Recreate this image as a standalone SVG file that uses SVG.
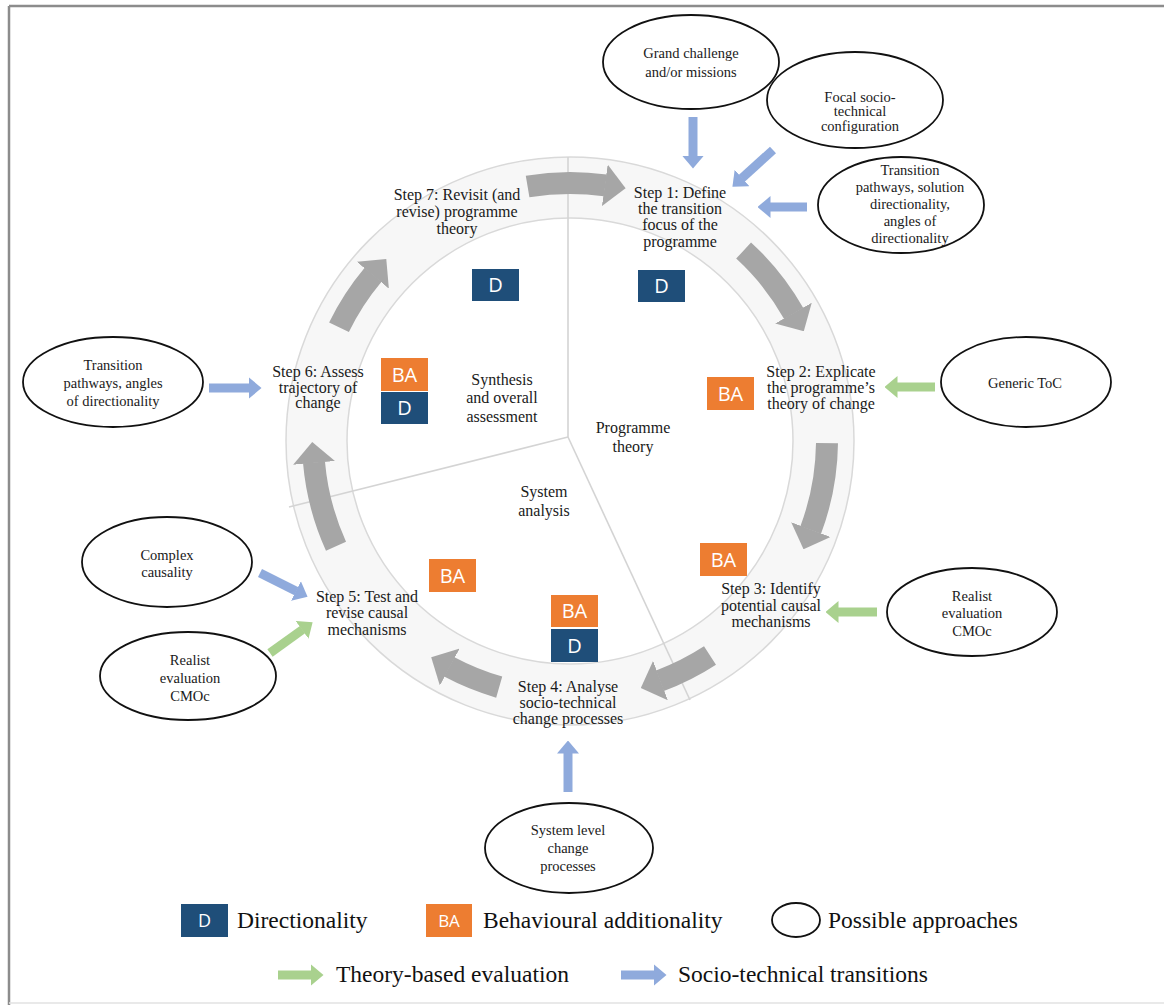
<svg xmlns="http://www.w3.org/2000/svg" width="1164" height="1005" viewBox="0 0 1164 1005">
<style>
.t{fill:#1a1a1a;text-anchor:middle}
.s{font-size:16px}
.e{font-size:14.5px}
.lg{fill:#111;font-size:23.5px}
.ell{fill:#fff;stroke:#111;stroke-width:1.8}
.bx{fill:#fff;text-anchor:middle;font-size:20px}
.ba{fill:#ed7d31}
.d{fill:#1f4e79}
.cyc{fill:none;stroke:#a6a6a6;stroke-width:22;marker-end:url(#gh)}
.blue{stroke:#8faadc;stroke-width:9;marker-end:url(#bh)}
.green{stroke:#a9d18e;stroke-width:9;marker-end:url(#grh)}
.sp{stroke:#d4d4d4;stroke-width:1.6;fill:none}
</style>
<defs>
<marker id="gh" markerUnits="userSpaceOnUse" markerWidth="21" markerHeight="42" viewBox="0 0 21 42" refX="0.5" refY="21" orient="auto"><path d="M0,0 L21,21 L0,42 z" fill="#a6a6a6"/></marker>
<marker id="bh" markerUnits="userSpaceOnUse" markerWidth="13" markerHeight="22" viewBox="0 0 13 22" refX="0.5" refY="11" orient="auto"><path d="M0,0 L13,11 L0,22 z" fill="#8faadc"/></marker>
<marker id="grh" markerUnits="userSpaceOnUse" markerWidth="13" markerHeight="22" viewBox="0 0 13 22" refX="0.5" refY="11" orient="auto"><path d="M0,0 L13,11 L0,22 z" fill="#a9d18e"/></marker>
</defs>
<rect width="1164" height="1005" fill="#fff"/>
<g id="frame">
<line x1="9" y1="6" x2="1164" y2="6" stroke="#8c8c8c" stroke-width="2.5"/>
<line x1="9" y1="6" x2="9" y2="1005" stroke="#8c8c8c" stroke-width="2.5"/>
<line x1="9" y1="1003" x2="1164" y2="1003" stroke="#e2e2e2" stroke-width="1.5"/>
</g>
<g id="ring">
<path d="M286,441 A284,284 0 1 0 854,441 A284,284 0 1 0 286,441 Z M347,441 A223,223 0 1 1 793,441 A223,223 0 1 1 347,441 Z" fill="#f7f7f7" fill-rule="evenodd" stroke="#d9d9d9" stroke-width="1.5"/>
<line class="sp" x1="568" y1="437" x2="568" y2="157"/>
<line class="sp" x1="568" y1="437" x2="289" y2="507"/>
<line class="sp" x1="568" y1="437" x2="690" y2="700"/>
</g>
<g id="connectors">
<path class="cyc" d="M527.6,186.5 A257,257 0 0 1 605.3,185.4"/>
<path class="cyc" d="M743.6,250.5 A257,257 0 0 1 793.7,313.5"/>
<path class="cyc" d="M827,443.1 A257,257 0 0 1 810.7,530"/>
<path class="cyc" d="M710,655.5 A257,257 0 0 1 660,680.7"/>
<path class="cyc" d="M499.2,687.1 A257,257 0 0 1 449.3,666.9"/>
<path class="cyc" d="M336,546.2 A257,257 0 0 1 314,462.4"/>
<path class="cyc" d="M339,327.3 A257,257 0 0 1 373.1,274.8"/>
<line class="blue" x1="693" y1="117" x2="693" y2="156"/>
<line class="blue" x1="773" y1="150" x2="741.7" y2="178.3"/>
<line class="blue" x1="807" y1="207" x2="770" y2="207"/>
<line class="blue" x1="209" y1="388" x2="249" y2="388"/>
<line class="blue" x1="260" y1="573" x2="296.4" y2="591.2"/>
<line class="blue" x1="568" y1="792" x2="568" y2="753"/>
<line class="green" x1="935" y1="387" x2="897" y2="387"/>
<line class="green" x1="877" y1="612" x2="838" y2="612"/>
<line class="green" x1="270" y1="653" x2="302.5" y2="629.6"/>
</g>
<g font-family="'Liberation Serif', 'Times New Roman', Times, serif">
<g id="segments">
<text class="t s"><tspan x="502" y="385">Synthesis</tspan><tspan x="502" y="403">and overall</tspan><tspan x="502" y="422">assessment</tspan></text>
<text class="t s"><tspan x="633" y="433">Programme</tspan><tspan x="633" y="452">theory</tspan></text>
<text class="t s"><tspan x="544" y="497">System</tspan><tspan x="544" y="516">analysis</tspan></text>
</g>
<g id="step1"><text class="t s"><tspan x="680" y="198">Step 1: Define</tspan><tspan x="680" y="214">the transition</tspan><tspan x="680" y="230">focus of the</tspan><tspan x="680" y="247">programme</tspan></text></g>
<g id="step2"><text class="t s"><tspan x="821" y="377">Step 2: Explicate</tspan><tspan x="821" y="393">the programme’s</tspan><tspan x="821" y="409">theory of change</tspan></text></g>
<g id="step3"><text class="t s"><tspan x="771" y="594">Step 3: Identify</tspan><tspan x="771" y="611">potential causal</tspan><tspan x="771" y="627">mechanisms</tspan></text></g>
<g id="step4"><text class="t s"><tspan x="568" y="692">Step 4: Analyse</tspan><tspan x="568" y="708">socio-technical</tspan><tspan x="568" y="724">change processes</tspan></text></g>
<g id="step5"><text class="t s"><tspan x="367" y="602">Step 5: Test and</tspan><tspan x="367" y="618">revise causal</tspan><tspan x="367" y="635">mechanisms</tspan></text></g>
<g id="step6"><text class="t s"><tspan x="318" y="377">Step 6: Assess</tspan><tspan x="318" y="393">trajectory of</tspan><tspan x="318" y="408">change</tspan></text></g>
<g id="step7"><text class="t s"><tspan x="457" y="200">Step 7: Revisit (and</tspan><tspan x="457" y="217">revise) programme</tspan><tspan x="457" y="234">theory</tspan></text></g>
<g id="approach-grand"><ellipse class="ell" cx="691" cy="62" rx="88" ry="47"/><text class="t e"><tspan x="691" y="58">Grand challenge</tspan><tspan x="691" y="77">and/or missions</tspan></text></g>
<g id="approach-focal"><ellipse class="ell" cx="855" cy="100" rx="88" ry="48"/><text class="t e"><tspan x="860" y="102">Focal socio-</tspan><tspan x="860" y="116">technical</tspan><tspan x="860" y="131">configuration</tspan></text></g>
<g id="approach-pathways"><ellipse class="ell" cx="901" cy="205" rx="83" ry="48"/><text class="t e"><tspan x="910" y="175">Transition</tspan><tspan x="910" y="192">pathways, solution</tspan><tspan x="910" y="209">directionality,</tspan><tspan x="910" y="226">angles of</tspan><tspan x="910" y="243">directionality</tspan></text></g>
<g id="approach-toc"><ellipse class="ell" cx="1026" cy="382" rx="85" ry="45"/><text class="t e" x="1025" y="388">Generic ToC</text></g>
<g id="approach-realist-r"><ellipse class="ell" cx="972" cy="612" rx="85" ry="44"/><text class="t e"><tspan x="972" y="601">Realist</tspan><tspan x="972" y="618">evaluation</tspan><tspan x="972" y="636">CMOc</tspan></text></g>
<g id="approach-pathways-l"><ellipse class="ell" cx="113" cy="382" rx="90" ry="45"/><text class="t e"><tspan x="113" y="370">Transition</tspan><tspan x="113" y="388">pathways, angles</tspan><tspan x="113" y="406">of directionality</tspan></text></g>
<g id="approach-complex"><ellipse class="ell" cx="167" cy="562" rx="85" ry="45"/><text class="t e"><tspan x="167" y="560">Complex</tspan><tspan x="167" y="577">causality</tspan></text></g>
<g id="approach-realist-l"><ellipse class="ell" cx="188" cy="676" rx="88" ry="44"/><text class="t e"><tspan x="190" y="665">Realist</tspan><tspan x="190" y="683">evaluation</tspan><tspan x="190" y="701">CMOc</tspan></text></g>
<g id="approach-system"><ellipse class="ell" cx="569" cy="848" rx="84" ry="45"/><text class="t e"><tspan x="568" y="835">System level</tspan><tspan x="568" y="853">change</tspan><tspan x="568" y="871">processes</tspan></text></g>
</g>
<g id="boxes" font-family="'Open Sans', 'Liberation Sans', sans-serif">
<g id="d-step7"><rect class="d" x="472" y="269" width="47" height="32"/><text class="bx" x="495.5" y="292">D</text></g>
<g id="d-step1"><rect class="d" x="638" y="270" width="47" height="32"/><text class="bx" x="661.5" y="293">D</text></g>
<g id="ba-step6"><rect class="ba" x="381" y="358" width="47" height="33"/><text class="bx" x="404.5" y="382">BA</text></g>
<g id="d-step6"><rect class="d" x="381" y="392" width="47" height="32"/><text class="bx" x="404.5" y="415">D</text></g>
<g id="ba-step2"><rect class="ba" x="707" y="377" width="47" height="33"/><text class="bx" x="730.5" y="401">BA</text></g>
<g id="ba-step3"><rect class="ba" x="700" y="543" width="47" height="33"/><text class="bx" x="723.5" y="567">BA</text></g>
<g id="ba-step5"><rect class="ba" x="429" y="559" width="47" height="33"/><text class="bx" x="452.5" y="583">BA</text></g>
<g id="ba-step4"><rect class="ba" x="551" y="595" width="47" height="32"/><text class="bx" x="574.5" y="618">BA</text></g>
<g id="d-step4"><rect class="d" x="551" y="629" width="47" height="33"/><text class="bx" x="574.5" y="653">D</text></g>
</g>
<g id="legend">
<rect class="d" x="181" y="904" width="47" height="33"/><text class="bx" x="204.5" y="927" font-family="'Open Sans', 'Liberation Sans', sans-serif" style="font-size:18px">D</text>
<rect class="ba" x="426" y="904" width="46" height="33"/><text class="bx" x="449" y="927" font-family="'Open Sans', 'Liberation Sans', sans-serif" style="font-size:17px">BA</text>
<ellipse class="ell" cx="796" cy="920" rx="24" ry="17"/>
<line class="green" x1="278" y1="975" x2="311" y2="975"/>
<line class="blue" x1="621" y1="975" x2="654" y2="975"/>
<g font-family="'Liberation Serif', 'Times New Roman', Times, serif">
<text class="lg" x="237" y="928">Directionality</text>
<text class="lg" x="483" y="928">Behavioural additionality</text>
<text class="lg" x="828" y="928">Possible approaches</text>
<text class="lg" x="336" y="982">Theory-based evaluation</text>
<text class="lg" x="678" y="982">Socio-technical transitions</text>
</g>
</g>
</svg>
